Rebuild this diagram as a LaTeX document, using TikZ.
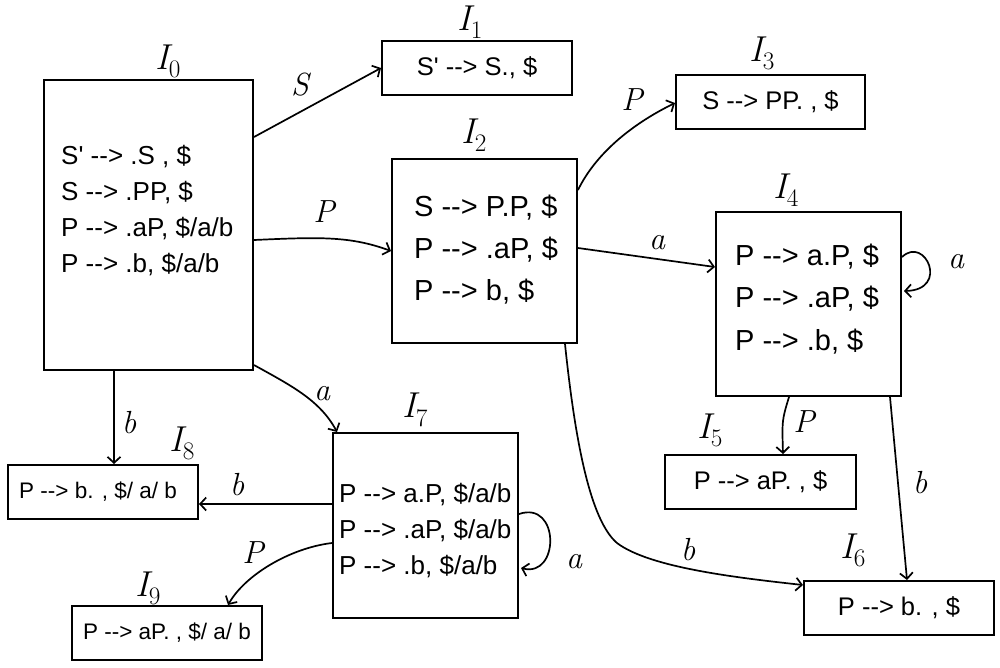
\documentclass[tikz,border=0pt]{standalone}
\usepackage{fontspec}
\newfontfamily\itemfont{Liberation Sans}
\usetikzlibrary{arrows.meta,calc}
\newcommand\stname[1]{I\textsubscript{\upshape #1}}
\begin{document}
\begin{tikzpicture}[x=1pt,y=-1pt,
  box/.style={draw,line width=2pt,inner sep=0pt,anchor=north west,font=\itemfont\fontsize{25.5}{30}\selectfont},
  smallbox/.style={box,font=\itemfont\fontsize{22.5}{26}\selectfont},
  edge/.style={line width=1.7pt,-{Straight Barb[length=6pt,width=13pt]}},
  items/.style={anchor=west,align=left,inner sep=0pt},
  sym/.style={inner sep=1pt,font=\itshape\fontsize{32}{32}\selectfont},
  stlabel/.style={inner sep=0pt,font=\itshape\fontsize{36}{36}\selectfont}]
\useasboundingbox[fill=white] (0,0) rectangle (1000,667);

% boxes
\node[box,minimum width=209,minimum height=290] (I0) at (43,79) {};
\node[box,minimum width=190,minimum height=54] (I1) at (381,40) {S' --> S., \$};
\node[box,minimum width=185,minimum height=184] (I2) at (391,158) {};
\node[box,minimum width=189,minimum height=54] (I3) at (675,74) {S --> PP. , \$};
\node[box,minimum width=185,minimum height=184] (I4) at (715,211) {};
\node[box,minimum width=191,minimum height=54] (I5) at (664,454) {P --> aP. , \$};
\node[box,minimum width=190,minimum height=54] (I6) at (803,580) {P --> b. , \$};
\node[box,minimum width=185,minimum height=185] (I7) at (332,432) {};
\node[smallbox,minimum width=190,minimum height=54] (I8) at (7,464) {};
\node[smallbox,minimum width=190,minimum height=54] (I9) at (71,605) {P --> aP. , \$/ a/ b};

% item texts
\node[items,font=\itemfont\fontsize{26}{36}\selectfont] (t0) at (61,211)
  {S' --> .S , \$\\S --> .PP, \$\\P --> .aP, \$/a/b\\P --> .b, \$/a/b};
\node[items,font=\itemfont\fontsize{29}{42}\selectfont] (t2) at (414,250)
  {S --> P.P, \$\\P --> .aP, \$\\P --> b, \$};
\node[items,font=\itemfont\fontsize{29}{42.5}\selectfont] (t4) at (735,299)
  {P --> a.P, \$\\P --> .aP, \$\\P --> .b, \$};
\node[items,font=\itemfont\fontsize{26}{36}\selectfont] (t7) at (339,531)
  {P --> a.P, \$/a/b\\P --> .aP, \$/a/b\\P --> .b, \$/a/b};
\node[items,font=\itemfont\fontsize{22.5}{26}\selectfont] (t8) at (19,492) {P --> b. , \$/ a/ b};

% state labels
\node[stlabel] (l0) at (168,61) {\stname{0}};
\node[stlabel] (l1) at (470,22) {\stname{1}};
\node[stlabel] (l2) at (474,135) {\stname{2}};
\node[stlabel] (l3) at (762,53) {\stname{3}};
\node[stlabel] (l4) at (786,190) {\stname{4}};
\node[stlabel] (l5) at (710,430) {\stname{5}};
\node[stlabel] (l6) at (853,550) {\stname{6}};
\node[stlabel] (l7) at (415,410) {\stname{7}};
\node[stlabel] (l8) at (182,443) {\stname{8}};
\node[stlabel] (l9) at (148,588) {\stname{9}};

% transitions
\draw[edge] ($(I0.north east)+(0,58)$) -- (I1.west);
\node[sym] at (300,85) {S};

\draw[edge] ($(I0.north east)+(0,161)$) .. controls (320,237) and (350,236) .. (I2.west);
\node[sym] at (324,212) {P};

\draw[edge] ($(I0.south west)+(71,0)$) -- ($(I8.north west)+(107,0)$);
\node[sym] at (129,423) {b};

\draw[edge] ($(I0.south east)+(0,-6)$) .. controls (290,385) and (320,400) .. ($(I7.north west)+(5,0)$);
\node[sym] at (322,394) {a};

\draw[edge] ($(I2.north east)+(0,32)$) .. controls (595,155) and (630,125) .. ($(I3.west)+(0,1)$);
\node[sym] at (632,100) {P};

\draw[edge] ($(I2.north east)+(0,90)$) -- ($(I4.north west)+(0,56)$);
\node[sym] at (657,243) {a};

\draw[edge] ($(I2.south east)+(-13,0)$) .. controls (575,440) and (590,520) .. (617,543)
  .. controls (650,568) and (740,578) .. ($(I6.north west)+(0,5)$);
\node[sym] at (688,550) {b};

\draw[edge] ($(I4.north east)+(0,46)$) .. controls (925,235) and (950,290) .. ($(I4.north east)+(2,80)$);
\node[sym] at (956,262) {a};

\draw[edge] ($(I4.south west)+(74,0)$) .. controls (782,420) .. ($(I5.north west)+(119,0)$);
\node[sym] at (804,422) {P};

\draw[edge] ($(I4.south east)+(-12,0)$) -- ($(I6.north west)+(104,0)$);
\node[sym] at (920,483) {b};

\draw[edge] ($(I7.north west)+(0,72)$) -- ($(I8.north east)+(0,40)$);
\node[sym] at (237,485) {b};

\draw[edge] ($(I7.north west)+(0,111)$) .. controls (290,548) and (245,575) .. ($(I9.north west)+(157,0)$);
\node[sym] at (253,553) {P};

\draw[edge] ($(I7.north east)+(0,82)$) .. controls (560,500) and (560,578) .. ($(I7.north east)+(2,136)$);
\node[sym] at (574,562) {a};
\end{tikzpicture}
\end{document}
